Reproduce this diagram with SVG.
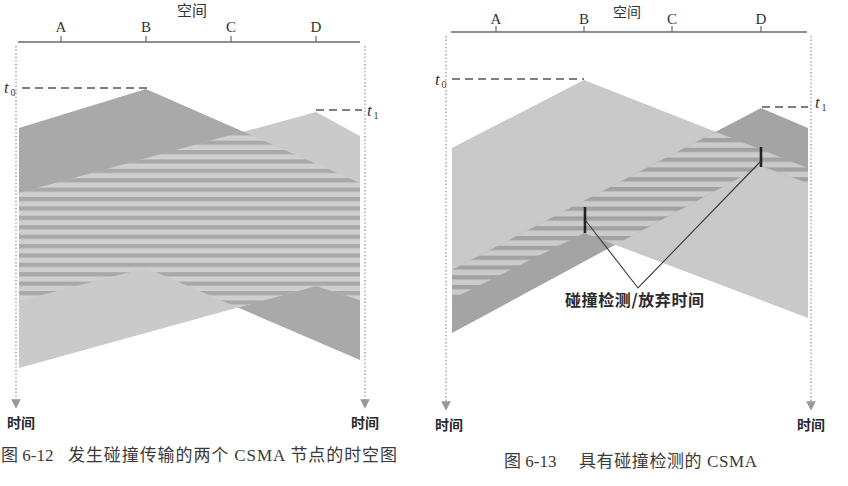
<svg xmlns="http://www.w3.org/2000/svg" width="848" height="486" viewBox="0 0 848 486">
<defs>
<style>
.axis{stroke:#6a6a6a;stroke-width:1.3;fill:none}
.tick{stroke:#6a6a6a;stroke-width:1.2;fill:none}
.dash{stroke:#555;stroke-width:1.6;stroke-dasharray:8 5;fill:none}
.timeline{stroke:#a8a8a8;stroke-width:1.6;stroke-dasharray:1.4 2.2;fill:none}
.serif{font-family:"Liberation Serif","Noto Sans CJK SC",serif}
.node{font-size:15px;fill:#333;text-anchor:middle}
.tvar{font-size:17px;font-style:italic;fill:#333}
.tsub{font-size:10px;fill:#333}
.cjk{font-family:"Noto Sans CJK SC","Liberation Sans",sans-serif}
.time{font-size:14px;font-weight:bold;fill:#2a2a2a;text-anchor:middle}
.space{font-size:15px;fill:#333;text-anchor:middle}
.cap{font-size:17px;fill:#3a3a3a}
.mark{stroke:#222;stroke-width:2.6}
.lead{stroke:#3a3a3a;stroke-width:1.1;fill:none}
</style>
<pattern id="stripeL" patternUnits="userSpaceOnUse" x="0" y="197" width="40" height="9.4">
<rect width="40" height="9.4" fill="#cfcfcf"/>
<rect width="40" height="4.2" fill="#a9a9a9"/>
</pattern>
<pattern id="stripeR" patternUnits="userSpaceOnUse" x="0" y="138" width="40" height="9.8">
<rect width="40" height="9.8" fill="#cbcbcb"/>
<rect width="40" height="4.3" fill="#a2a2a2"/>
</pattern>
<clipPath id="clipLB"><polygon points="19,128 146,89 360,183 360,360 146,268 19,301"/></clipPath>
<clipPath id="clipLD"><polygon points="19,193 316,112 360,136 360,300 316,286 19,368"/></clipPath>
<clipPath id="clipRB"><polygon points="452,148 584,80 808,168 808,318 584,233 452,299"/></clipPath>
<clipPath id="clipRD"><polygon points="452,270 761,108 808,128 808,183 761,166 452,333"/></clipPath>
<marker id="tarr" viewBox="0 0 6 6" refX="3" refY="3" markerWidth="6" markerHeight="6" orient="auto">
<path d="M0,0 L6,3 L0,6 Z" fill="#999"/>
</marker>
</defs>

<!-- ================= Left figure (6-12) ================= -->
<g id="fig612">
<g id="fig612-regions">
<polygon id="L-B" points="19,128 146,89 360,183 360,360 146,268 19,301" fill="#a9a9a9"/>
<polygon id="L-D" points="19,193 316,112 360,136 360,300 316,286 19,368" fill="#cacaca"/>
<g clip-path="url(#clipLB)"><rect x="0" y="80" width="380" height="300" fill="url(#stripeL)" clip-path="url(#clipLD)"/></g>
</g>
<g id="fig612-axis">
<text class="cjk space" x="192" y="16">空间</text>
<line class="axis" x1="18" y1="42" x2="360" y2="42"/>
<path class="tick" d="M61,36V42 M146,36V42 M231,36V42 M316,36V42"/>
<text class="serif node" x="61" y="32">A</text>
<text class="serif node" x="146" y="32">B</text>
<text class="serif node" x="231" y="32">C</text>
<text class="serif node" x="316" y="32">D</text>
</g>
<g id="fig612-times">
<line class="dash" x1="22" y1="88" x2="147" y2="88"/>
<line class="dash" x1="316" y1="110" x2="362" y2="110"/>
<text class="serif tvar" x="4" y="93">t</text><text class="serif tsub" x="10.5" y="96">0</text>
<text class="serif tvar" x="367" y="116">t</text><text class="serif tsub" x="373.5" y="119">1</text>
<line class="timeline" x1="16" y1="46" x2="16" y2="404" marker-end="url(#tarr)"/>
<line class="timeline" x1="365" y1="46" x2="365" y2="404" marker-end="url(#tarr)"/>
<text class="cjk time" x="21" y="428">时间</text>
<text class="cjk time" x="365" y="428">时间</text>
</g>
<g id="fig612-caption">
<text class="serif cap" x="1" y="461">图 6-12</text>
<text class="serif cap" x="68" y="461" textLength="329" lengthAdjust="spacing">发生碰撞传输的两个 CSMA 节点的时空图</text>
</g>
</g>

<!-- ================= Right figure (6-13) ================= -->
<g id="fig613">
<g id="fig613-regions">
<polygon id="R-B" points="452,148 584,80 808,168 808,318 584,233 452,299" fill="#c9c9c9"/>
<polygon id="R-D" points="452,270 761,108 808,128 808,183 761,166 452,333" fill="#a4a4a4"/>
<g clip-path="url(#clipRB)"><rect x="440" y="70" width="380" height="300" fill="url(#stripeR)" clip-path="url(#clipRD)"/></g>
</g>
<g id="fig613-axis">
<text class="cjk" x="627" y="17" font-size="14" fill="#333" text-anchor="middle">空间</text>
<line class="axis" x1="451" y1="32" x2="807" y2="32"/>
<path class="tick" d="M496,26V32 M584,26V32 M672,26V32 M761,26V32"/>
<text class="serif node" x="496" y="23.5">A</text>
<text class="serif node" x="584" y="23.5">B</text>
<text class="serif node" x="672" y="23.5">C</text>
<text class="serif node" x="761" y="23.5">D</text>
</g>
<g id="fig613-times">
<line class="dash" x1="452" y1="79" x2="584" y2="79"/>
<line class="dash" x1="762" y1="107" x2="808" y2="107"/>
<text class="serif tvar" x="435" y="85">t</text><text class="serif tsub" x="441.5" y="88">0</text>
<text class="serif tvar" x="815" y="108">t</text><text class="serif tsub" x="821.5" y="111">1</text>
<line class="timeline" x1="446" y1="36" x2="446" y2="406" marker-end="url(#tarr)"/>
<line class="timeline" x1="811" y1="36" x2="811" y2="406" marker-end="url(#tarr)"/>
<text class="cjk time" x="449" y="430">时间</text>
<text class="cjk time" x="811" y="430">时间</text>
</g>
<g id="fig613-detect">
<line class="mark" x1="585" y1="207" x2="585" y2="233"/>
<line class="mark" x1="761" y1="147" x2="761" y2="167"/>
<g id="connectors">
<polyline class="lead" points="586,221 638,288 761,161"/>
</g>
<text class="cjk" x="634.5" y="306" font-size="16" font-weight="bold" fill="#2a2a2a" text-anchor="middle" textLength="139" lengthAdjust="spacing">碰撞检测/放弃时间</text>
</g>
<g id="fig613-caption">
<text class="serif cap" x="504" y="467">图 6-13</text>
<text class="serif cap" x="579" y="467" textLength="178" lengthAdjust="spacing">具有碰撞检测的 CSMA</text>
</g>
</g>
</svg>
